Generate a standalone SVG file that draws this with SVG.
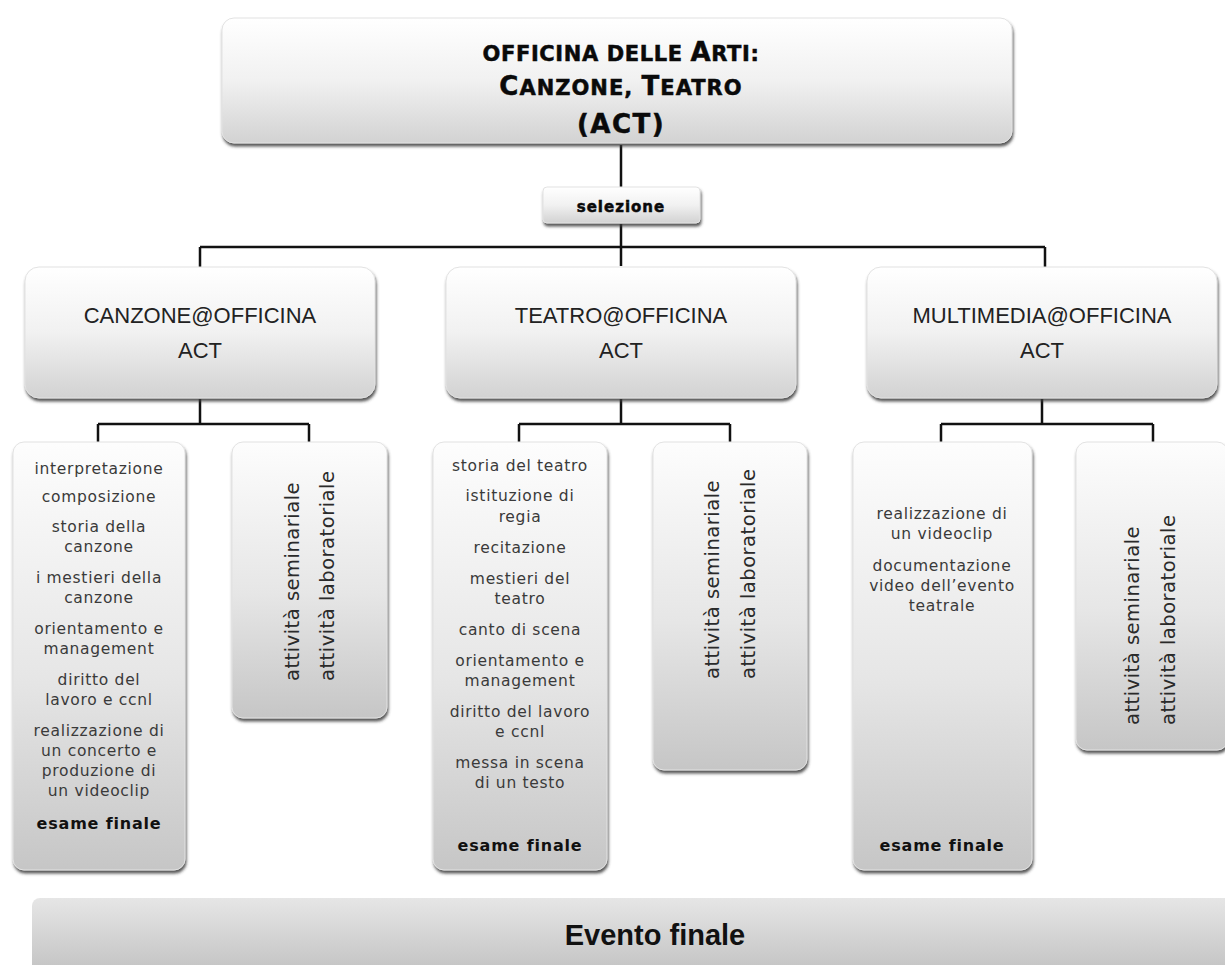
<svg xmlns="http://www.w3.org/2000/svg" width="1225" height="965" viewBox="0 0 1225 965">
<defs>
<linearGradient id="gBox" x1="0" y1="0" x2="0" y2="1">
<stop offset="0" stop-color="#ffffff"/>
<stop offset="0.5" stop-color="#f1f1f1"/>
<stop offset="1" stop-color="#d2d2d2"/>
</linearGradient>
<linearGradient id="gList" x1="0" y1="0" x2="0" y2="1">
<stop offset="0" stop-color="#fdfdfd"/>
<stop offset="0.55" stop-color="#e6e6e6"/>
<stop offset="1" stop-color="#c6c6c6"/>
</linearGradient>
<linearGradient id="gEvent" x1="0" y1="0" x2="0" y2="1">
<stop offset="0" stop-color="#e6e6e6"/>
<stop offset="1" stop-color="#c0c0c0"/>
</linearGradient>
<filter id="sh" x="-10%" y="-10%" width="120%" height="130%">
<feDropShadow dx="1" dy="3" stdDeviation="1.5" flood-color="#3a3a3a" flood-opacity="0.85"/>
</filter>
<style>
.box{fill:url(#gBox);stroke:#e2e2e2;stroke-width:1;filter:url(#sh)}
.list{fill:url(#gList);stroke:#e2e2e2;stroke-width:1;filter:url(#sh)}
.conn{stroke:#111;stroke-width:2.5;fill:none}
.title{font-family:"DejaVu Sans",sans-serif;font-weight:bold;fill:#0a0a0a;text-anchor:middle;stroke:#0a0a0a;stroke-width:0.5}
.l2{font-family:"Liberation Sans",Arial,sans-serif;font-size:22px;fill:#222;text-anchor:middle}
.li{font-family:"DejaVu Sans",sans-serif;font-size:15.5px;letter-spacing:0.7px;fill:#3a3a3a;text-anchor:middle}
.ex{font-family:"DejaVu Sans",sans-serif;font-size:16px;letter-spacing:0.8px;font-weight:bold;fill:#111;text-anchor:middle}
.vt{font-family:"DejaVu Sans",sans-serif;font-size:19.5px;letter-spacing:0.5px;fill:#2a2a2a;dominant-baseline:central}
</style>
</defs>

<g id="connectors">
<path class="conn" d="M621 145 V188 M621 224 V266 M200 247 H1045 M200 247 V267 M1045 247 V267"/>
<path class="conn" d="M200 399 V424 M98 424 H309 M98 424 V443 M309 424 V443"/>
<path class="conn" d="M621 399 V424 M519 424 H730 M519 424 V443 M730 424 V443"/>
<path class="conn" d="M1042 399 V424 M941 424 H1153 M941 424 V443 M1153 424 V443"/>
</g>

<g id="top">
<rect class="box" x="222" y="18" width="790" height="125" rx="12"/>
<text class="title" x="621" y="61" font-size="21" letter-spacing="0.6">OFFICINA DELLE <tspan font-size="26">A</tspan>RTI:</text>
<text class="title" x="621" y="95" font-size="21" letter-spacing="1"><tspan font-size="26">C</tspan>ANZONE, <tspan font-size="26">T</tspan>EATRO</text>
<text class="title" x="621" y="133" font-size="26" letter-spacing="1.5">(ACT)</text>
</g>

<g id="selezione">
<rect class="box" x="543" y="187" width="157" height="36" rx="4"/>
<text class="title" x="621" y="212" font-size="15" letter-spacing="1" stroke-width="0.3">selezione</text>
</g>

<g id="canzone">
<rect class="box" x="25" y="267" width="350" height="131" rx="14"/>
<text class="l2" x="200" y="323">CANZONE@OFFICINA</text>
<text class="l2" x="200" y="358">ACT</text>
</g>
<g id="teatro">
<rect class="box" x="446" y="267" width="350" height="131" rx="14"/>
<text class="l2" x="621" y="323">TEATRO@OFFICINA</text>
<text class="l2" x="621" y="358">ACT</text>
</g>
<g id="multimedia">
<rect class="box" x="867" y="267" width="350" height="131" rx="14"/>
<text class="l2" x="1042" y="323">MULTIMEDIA@OFFICINA</text>
<text class="l2" x="1042" y="358">ACT</text>
</g>

<g id="canzone-list">
<rect class="list" x="13" y="442" width="172" height="428" rx="11"/>
<text class="li" x="99" y="474">interpretazione</text>
<text class="li" x="99" y="502">composizione</text>
<text class="li" x="99" y="532">storia della</text>
<text class="li" x="99" y="552">canzone</text>
<text class="li" x="99" y="583">i mestieri della</text>
<text class="li" x="99" y="603">canzone</text>
<text class="li" x="99" y="634">orientamento e</text>
<text class="li" x="99" y="654">management</text>
<text class="li" x="99" y="685">diritto del</text>
<text class="li" x="99" y="705">lavoro e ccnl</text>
<text class="li" x="99" y="736">realizzazione di</text>
<text class="li" x="99" y="756">un concerto e</text>
<text class="li" x="99" y="776">produzione di</text>
<text class="li" x="99" y="796">un videoclip</text>
<text class="ex" x="99" y="829">esame finale</text>
</g>
<g id="canzone-attivita">
<rect class="list" x="232" y="442" width="155" height="276" rx="11"/>
<text class="vt" transform="translate(292,681) rotate(-90)">attività  seminariale</text>
<text class="vt" transform="translate(327,681) rotate(-90)">attività  laboratoriale</text>
</g>

<g id="teatro-list">
<rect class="list" x="433" y="442" width="174" height="428" rx="11"/>
<text class="li" x="520" y="471">storia del teatro</text>
<text class="li" x="520" y="501">istituzione di</text>
<text class="li" x="520" y="522">regia</text>
<text class="li" x="520" y="553">recitazione</text>
<text class="li" x="520" y="584">mestieri del</text>
<text class="li" x="520" y="604">teatro</text>
<text class="li" x="520" y="635">canto di scena</text>
<text class="li" x="520" y="666">orientamento e</text>
<text class="li" x="520" y="686">management</text>
<text class="li" x="520" y="717">diritto del lavoro</text>
<text class="li" x="520" y="737">e ccnl</text>
<text class="li" x="520" y="768">messa in scena</text>
<text class="li" x="520" y="788">di un testo</text>
<text class="ex" x="520" y="851">esame finale</text>
</g>
<g id="teatro-attivita">
<rect class="list" x="653" y="442" width="154" height="328" rx="11"/>
<text class="vt" transform="translate(712,679) rotate(-90)">attività  seminariale</text>
<text class="vt" transform="translate(748,679) rotate(-90)">attività  laboratoriale</text>
</g>

<g id="multimedia-list">
<rect class="list" x="853" y="442" width="179" height="428" rx="11"/>
<text class="li" x="942" y="519">realizzazione di</text>
<text class="li" x="942" y="539">un videoclip</text>
<text class="li" x="942" y="571">documentazione</text>
<text class="li" x="942" y="591">video dell’evento</text>
<text class="li" x="942" y="611">teatrale</text>
<text class="ex" x="942" y="851">esame finale</text>
</g>
<g id="multimedia-attivita">
<rect class="list" x="1076" y="442" width="152" height="308" rx="11"/>
<text class="vt" transform="translate(1132,725) rotate(-90)">attività  seminariale</text>
<text class="vt" transform="translate(1168,725) rotate(-90)">attività  laboratoriale</text>
</g>

<g id="evento">
<rect x="32" y="898" width="1205" height="80" rx="8" fill="url(#gEvent)"/>
<text x="655" y="945" font-family="'Liberation Sans',Arial,sans-serif" font-size="29" font-weight="bold" fill="#111" text-anchor="middle">Evento finale</text>
</g>
</svg>
